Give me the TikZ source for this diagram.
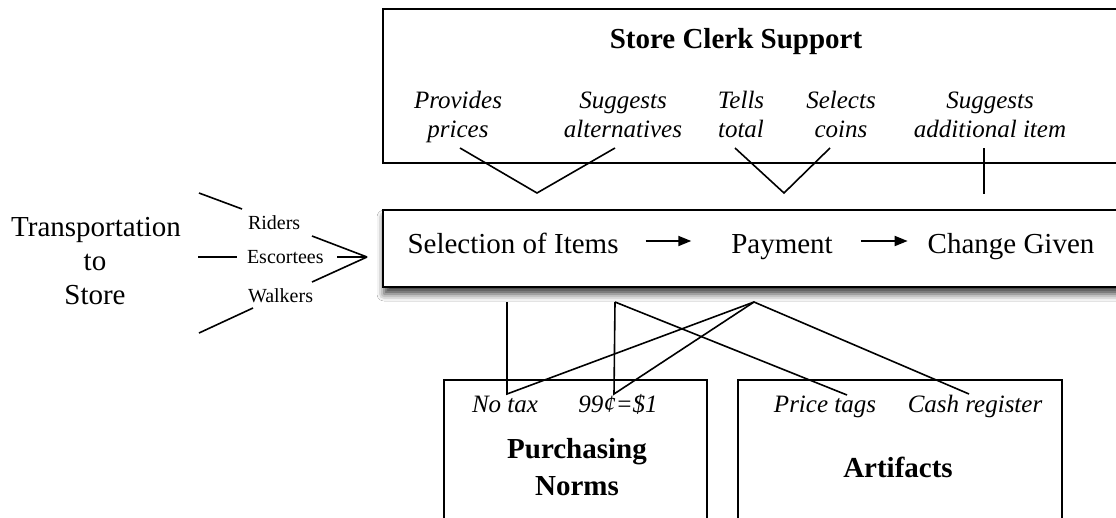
\documentclass[tikz,border=0pt]{standalone}
\usepackage{fontspec}
\setmainfont{Liberation Serif}
\usetikzlibrary{arrows.meta,shadows.blur,calc}
\begin{document}
\begin{tikzpicture}[x=1pt,y=-1pt,
  every node/.style={inner sep=0pt, outer sep=0pt},
  lbl/.style={anchor=base, font=\fontsize{25}{30}\selectfont\itshape},
  big/.style={anchor=base, font=\fontsize{29}{34}\selectfont},
  bigb/.style={anchor=base, font=\fontsize{29}{34}\selectfont\bfseries},
  small/.style={anchor=base west, font=\fontsize{20}{24}\selectfont},
  box/.style={draw, line width=1.8pt, anchor=north west},
  link/.style={line width=1.6pt},
  flow/.style={line width=1.8pt, -{Triangle[length=13pt,width=10pt]}},
]
\path[use as bounding box, clip] (0,0) rectangle (1116,517);
\fill[white] (0,0) rectangle (1116,517);

% ---- top box: store clerk support
\node[box, minimum width=760pt, minimum height=154pt] (clerk) at (383,9) {};
\node[bigb] (title) at (736,48) {Store Clerk Support};
\node[lbl] (prov)  at (458,108) {Provides};
\node[lbl] (price) at (458,137) {prices};
\node[lbl] (sugg)  at (623,108) {Suggests};
\node[lbl] (alt)   at (623,137) {alternatives};
\node[lbl] (tells) at (741,108) {Tells};
\node[lbl] (total) at (741,137) {total};
\node[lbl] (sel)   at (841,108) {Selects};
\node[lbl] (coins) at (841,137) {coins};
\node[lbl] (sug2)  at (990,108) {Suggests};
\node[lbl] (addit) at (990,137) {additional item};

\coordinate (pp) at (460,148);
\coordinate (v1) at (537,193);
\coordinate (sa) at (615,148);
\coordinate (tt) at (735,148);
\coordinate (v2) at (784,193);
\coordinate (sc) at (830,148);
\coordinate (ai) at (984,148);
\coordinate (v3) at (984,194);
\draw[link] (pp) -- (v1) -- (sa);
\draw[link] (tt) -- (v2) -- (sc);
\draw[link] (ai) -- (v3);

% ---- middle process box
\node[box, fill=white, line width=2pt, minimum width=760pt, minimum height=77pt,
      blur shadow={shadow xshift=1pt, shadow yshift=-7pt, shadow blur radius=7pt, shadow opacity=75}]
      (proc) at (383,210) {};
\node[big] (selit) at (513,253) {Selection of Items};
\node[big] (pay)   at (782,253) {Payment};
\node[big] (chg)   at (1011,253) {Change Given};
\draw[flow] ([shift={(27pt,12pt)}]selit.base east) -- ([shift={(-40pt,12pt)}]pay.base west);
\draw[flow] ([shift={(28pt,12pt)}]pay.base east) -- ([shift={(-20pt,12pt)}]chg.base west);

% ---- left: transportation
\node[big] (tr1) at (96,236) {Transportation};
\node[big] (tr2) at (95,270) {to};
\node[big] (tr3) at (95,304) {Store};
\node[small] (riders) at (248,229) {Riders};
\node[small] (escort) at (247,263) {Escortees};
\node[small] (walk)   at (248,302) {Walkers};

\coordinate (r1) at (199,193);
\coordinate (r2) at (242,209);
\coordinate (e1) at (198,257);
\coordinate (e2) at (237,257);
\coordinate (w1) at (199,333);
\coordinate (w2) at (253,308);
\coordinate (rr) at (312,236);
\coordinate (er) at (337,257);
\coordinate (wr) at (312,282);
\coordinate (conv) at (367,257);
\draw[link] (r1) -- (r2);
\draw[link] (e1) -- (e2);
\draw[link] (w1) -- (w2);
\draw[link] (rr) -- (conv);
\draw[link] (er) -- (conv);
\draw[link] (wr) -- (conv);

% ---- bottom boxes
\node[box, minimum width=263pt, minimum height=170pt] (norms) at (444,380) {};
\node[box, minimum width=324pt, minimum height=170pt] (artif) at (738,380) {};
\node[lbl] (notax) at (505,412) {No tax};
\node[lbl] (nn99)  at (618,412) {99¢=\$1};
\node[lbl] (ptags) at (825,412) {Price tags};
\node[lbl] (cash)  at (975,412) {Cash register};
\node[bigb] (purch) at (577,458) {Purchasing};
\node[bigb] (norm2) at (577,495) {Norms};
\node[bigb] (artt)  at (898,477) {Artifacts};

\coordinate (s1) at (507,302);
\coordinate (s2) at (615,302);
\coordinate (apex) at (754,302);
\coordinate (nt) at (507,394);
\coordinate (nv) at (614,394);
\coordinate (pt) at (847,395);
\coordinate (cr) at (969,394);
\draw[link] (s1) -- (nt) -- (apex) -- (cr);
\draw[link] (s2) -- (nv) -- (apex);
\draw[link] (s2) -- (pt);
\end{tikzpicture}
\end{document}
